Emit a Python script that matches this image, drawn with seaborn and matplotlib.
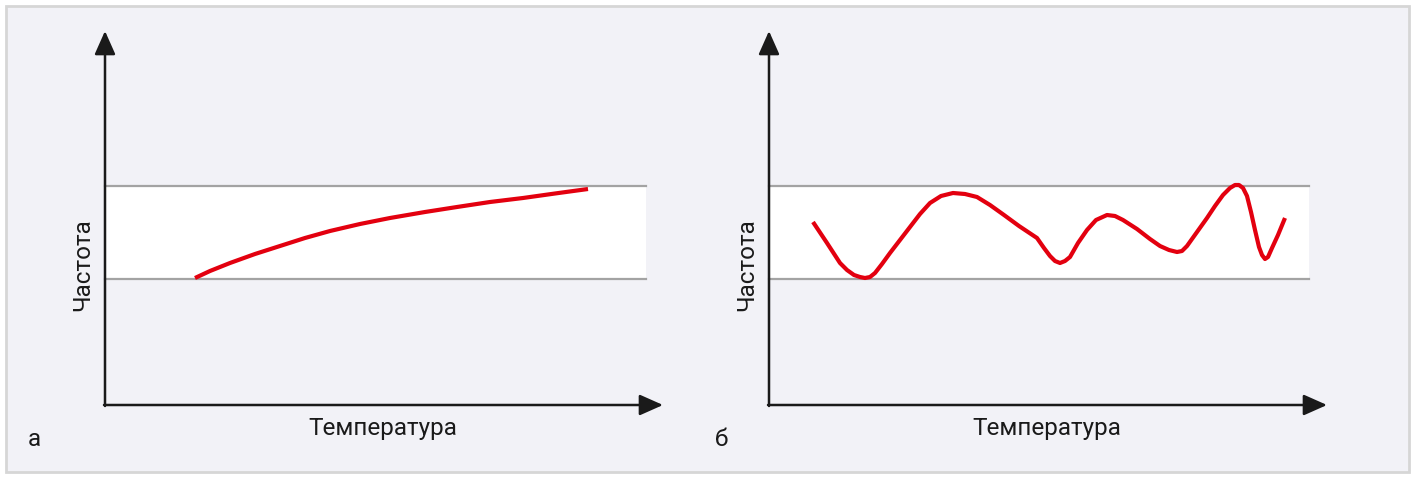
import numpy as np
import pandas as pd
import seaborn as sns
import matplotlib.pyplot as plt
from matplotlib.patches import Rectangle

# values (origin of each panel = 0,0)
temp_a = [90, 105, 125, 150, 175, 200, 225, 255, 285, 320, 352, 385, 418, 450, 483]
freq_a = [127, 134, 142, 151, 159, 167, 174, 181, 187, 193, 198, 203, 207, 211.5, 216]

temp_b = [44, 58, 71, 78, 85, 91, 96, 101, 106, 113,
          121, 131, 141, 151, 161, 172, 184, 196, 208, 221,
          235, 250, 268, 275, 281, 286, 291, 296, 301, 309,
          318, 327, 338, 346, 354, 368, 381, 391, 400, 408,
          413, 418, 428, 438, 446, 454, 461, 466, 470, 474,
          478, 482, 486, 490, 493, 496, 499, 503, 509, 516]
freq_b = [183, 162, 142, 135, 130, 128, 127, 128, 132, 141,
          152, 165, 178, 191, 202, 209, 212, 211, 208, 200,
          190, 179, 167, 157, 149, 144, 142, 144, 148, 162,
          175, 185, 190, 189, 185, 176, 166, 159, 155, 153,
          154, 159, 173, 187, 199, 210, 217, 220, 220, 217,
          209, 193, 175, 158, 150, 146, 148, 157, 170, 187]

band_low, band_high = 126, 219
band_end = [541, 540]
panel_labels = ["а", "б"]
xlabel = "Температура"
ylabel = "Частота"

plt.rcParams['font.family'] = ['Roboto', 'DejaVu Sans']

bg = "#f2f2f7"
red = "#e3000f"
axis_col = "#1a1a1a"
grey = "#a3a3a3"

fig = plt.figure(figsize=(14.15, 4.78), dpi=100)
fig.patch.set_facecolor("white")
fig.patches.append(Rectangle((6 / 1415, 6 / 478), 1403 / 1415, 466 / 478,
                             transform=fig.transFigure, facecolor=bg,
                             edgecolor="#d6d6d6", linewidth=2, zorder=-10))

origins = [105, 61.5]  # origin x in pixels inside each half
panels = [(temp_a, freq_a), (temp_b, freq_b)]

for i, (xs, ys) in enumerate(panels):
    ax = fig.add_axes([i * 0.5, 0, 0.5, 1])
    ax.set_xlim(-origins[i], 707.5 - origins[i])
    ax.set_ylim(-73, 405)
    ax.axis("off")

    # white band with grey bounds
    ax.fill_between([0, band_end[i]], band_low, band_high, color="white", lw=0, zorder=1)
    ax.plot([0, band_end[i]], [band_low, band_low], color=grey, lw=1.6, zorder=2)
    ax.plot([0, band_end[i]], [band_high, band_high], color=grey, lw=1.6, zorder=2)

    df = pd.DataFrame({"t": xs, "f": ys})
    sns.lineplot(data=df, x="t", y="f", color=red, lw=3.0, ax=ax, zorder=3,
                 sort=False, solid_capstyle="butt", solid_joinstyle="round")

    # axes with arrows
    arrow = dict(arrowstyle="-|>,head_length=0.9,head_width=0.4", color=axis_col,
                 lw=1.8, shrinkA=0, shrinkB=0, mutation_scale=16)
    ax.annotate("", xy=(0, 374), xytext=(0, -1), arrowprops=arrow, zorder=4)
    ax.annotate("", xy=(558, 0), xytext=(-1, 0), arrowprops=arrow, zorder=4)

    ax.text(-22, 140, ylabel, rotation=90, ha="center", va="center",
            fontsize=17.5, color=axis_col)
    ax.text(278, -23, xlabel, ha="center", va="center", fontsize=17.5, color=axis_col)
    ax.text(-71 if i == 0 else -47, -35, panel_labels[i], ha="center", va="center",
            fontsize=17.5, color=axis_col)

fig.savefig("out.png", dpi=100, facecolor="white")
